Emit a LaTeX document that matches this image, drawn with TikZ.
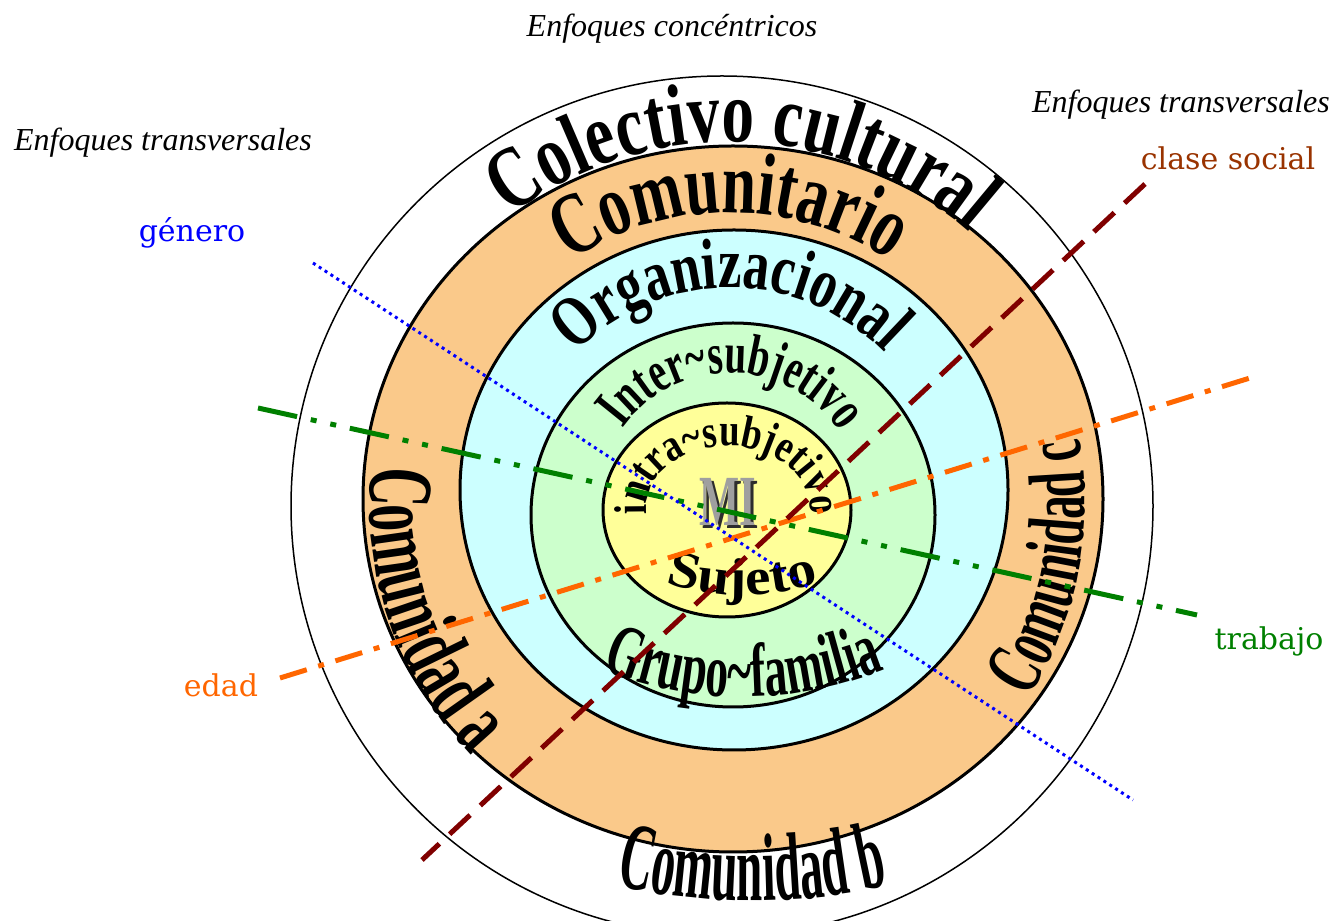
\documentclass[tikz,border=0pt]{standalone}
\usepackage{fontspec}
\usepackage{xcolor}
\usepackage{tikz}
\usetikzlibrary{decorations.text}
\setmainfont{Liberation Serif}
\newfontfamily\labelfont{DejaVu Serif}
\newfontfamily\wfCol[FakeStretch=0.74]{Liberation Serif}
\newfontfamily\wfComun[FakeStretch=0.70]{Liberation Serif}
\newfontfamily\wfInter[FakeStretch=0.67]{Liberation Serif}
\newfontfamily\wfOrg[FakeStretch=0.73]{Liberation Serif}
\newfontfamily\wfIntra[FakeStretch=0.80]{Liberation Serif}
\newfontfamily\wfSuj[FakeStretch=1.1]{Liberation Serif}
\newfontfamily\wfGrupo[FakeStretch=0.60]{Liberation Serif}
\newfontfamily\wfSide[FakeStretch=0.59]{Liberation Serif}
\newfontfamily\wfBottom[FakeStretch=0.49]{Liberation Serif}
\definecolor{ringorange}{RGB}{250,201,138}
\definecolor{ringcyan}{RGB}{204,255,255}
\definecolor{ringgreen}{RGB}{204,255,204}
\definecolor{ringyellow}{RGB}{255,255,153}
\definecolor{clasered}{RGB}{128,0,0}
\definecolor{clasetext}{RGB}{153,51,0}
\definecolor{edadorange}{RGB}{255,102,0}
\definecolor{trabajogreen}{RGB}{0,128,0}

\begin{document}
\begin{tikzpicture}[x=1pt, y=1pt,
    ring/.style={draw=black, line width=3pt},
    arctext/.style={decorate, decoration={text along path, text align=center, text={#1}}},
    title/.style={font=\fontsize{32}{32}\selectfont\itshape, anchor=base},
    cross/.style={font=\labelfont\fontsize{30}{30}\selectfont, anchor=base},
    genero/.style={blue, line width=3pt, dash pattern=on 3pt off 4pt},
    clase/.style={clasered, line width=5pt, dash pattern=on 28pt off 14pt},
    edad/.style={edadorange, line width=5pt, dash pattern=on 28pt off 12pt on 6pt off 12pt},
    trabajo/.style={trabajogreen, line width=5pt, dash pattern=on 40pt off 14pt on 6pt off 14pt on 6pt off 14pt}]
    \useasboundingbox (0,0) rectangle (1336,921);
    \clip (0,0) rectangle (1336,921);
    \coordinate (ctr) at (730,416);
    % Rings
    \draw[line width=1.5pt] (722,415) ellipse [x radius=431, y radius=430];
    \draw[ring, fill=ringorange] (733,422) ellipse [x radius=370, y radius=353];
    \draw[ring, fill=ringcyan] (734,431) ellipse [x radius=274, y radius=260];
    \draw[ring, fill=ringgreen] (733,406) ellipse [x radius=202, y radius=192];
    \draw[ring, fill=ringyellow] (727,411) ellipse [x radius=124, y radius=107];
    % Ring names
    \path[arctext={|\wfCol\bfseries\fontsize{88}{88}\selectfont|Colectivo cultural}] (ctr) ++(160:363) arc[start angle=160, end angle=16, radius=363];
    \path[arctext={|\wfComun\bfseries\fontsize{88}{88}\selectfont|Comunitario}] (ctr) ++(160:292) arc[start angle=160, end angle=20, radius=292];
    \path[arctext={|\wfOrg\bfseries\fontsize{72}{72}\selectfont|Organizacional}] (ctr) ++(175:217) arc[start angle=175, end angle=5, radius=217];
    \path[arctext={|\wfInter\bfseries\fontsize{58}{58}\selectfont|Inter{\char126}subjetivo}] (ctr) ++(180:132) arc[start angle=180, end angle=-2, radius=132];
    \path[arctext={|\wfIntra\bfseries\fontsize{46}{46}\selectfont|intra{\char126}subjetivo}] (728,412) ++(200:82 and 63) arc[start angle=200, end angle=-20, x radius=82, y radius=63];
    \path[arctext={|\wfSuj\bfseries\fontsize{52}{52}\selectfont|Sujeto}] (742,576) ++(235:250) arc[start angle=235, end angle=305, radius=250];
    \path[arctext={|\wfGrupo\bfseries\fontsize{76}{76}\selectfont|Grupo{\char126}familia}] (743,604) ++(235:380) arc[start angle=235, end angle=305, radius=380];
    \path[arctext={|\wfBottom\bfseries\fontsize{96}{96}\selectfont|Comunidad b}] (752,620) ++(250:600) arc[start angle=250, end angle=290, radius=600];
    \path[arctext={|\wfSide\bfseries\fontsize{92}{92}\selectfont|Comunidad a}] (ctr) ++(150:360) arc[start angle=150, end angle=248, radius=360];
    \path[arctext={|\wfSide\bfseries\fontsize{80}{80}\selectfont|Comunidad c}] (ctr) ++(-60:355) arc[start angle=-60, end angle=38, radius=355];
    % MI
    \node[inner sep=0, font=\wfSide\bfseries\fontsize{72}{72}\selectfont, text=gray!35!black] (miShadow) at (731,416) {MI};
    \node[inner sep=0, font=\wfSide\bfseries\fontsize{72}{72}\selectfont, text=gray!75] (mi) at (728,419) {MI};
    % Transversal lines
    \coordinate (generoA) at (313,658);
    \coordinate (generoB) at (1133,121);
    \coordinate (claseA) at (1145,737);
    \coordinate (claseB) at (422,61);
    \coordinate (edadA) at (280,243);
    \coordinate (edadB) at (1250,543);
    \coordinate (trabajoA) at (258,513);
    \coordinate (trabajoB) at (1197,306);
    \draw[trabajo] (trabajoA) -- (trabajoB);
    \draw[edad] (edadA) -- (edadB);
    \draw[clase] (claseA) -- (claseB);
    \draw[genero] (generoA) -- (generoB);
    % Labels
    \node[title] (concentricos) at (672,884) {Enfoques concéntricos};
    \node[title] (transvIzq) at (163,770) {Enfoques transversales};
    \node[title] (transvDer) at (1181,808) {Enfoques transversales};
    \node[cross, text=blue] (generoLbl) at (192,679) {género};
    \node[cross, text=clasetext] (claseLbl) at (1228,751) {clase social};
    \node[cross, text=edadorange] (edadLbl) at (221,224) {edad};
    \node[cross, text=trabajogreen] (trabajoLbl) at (1269,271) {trabajo};
\end{tikzpicture}
\end{document}
